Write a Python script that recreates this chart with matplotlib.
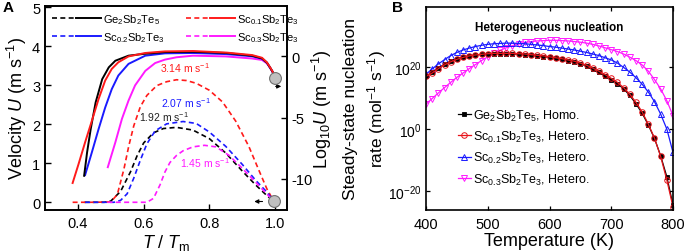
import numpy as np
import matplotlib
matplotlib.use("Agg")
import matplotlib.pyplot as plt
from matplotlib.legend_handler import HandlerTuple
from matplotlib.lines import Line2D
from matplotlib.ticker import FixedLocator, NullLocator, LogFormatterMathtext

plt.rcParams['font.family'] = ['Liberation Sans', 'DejaVu Sans']
plt.rcParams['mathtext.fontset'] = 'custom'
plt.rcParams['mathtext.rm'] = 'Liberation Sans'
plt.rcParams['mathtext.it'] = 'Liberation Sans:italic'
plt.rcParams['mathtext.bf'] = 'Liberation Sans:bold'

# ---------------- Panel A data ----------------
names = [r'Ge$_2$Sb$_2$Te$_5$', r'Sc$_{0.1}$Sb$_2$Te$_3$',
         r'Sc$_{0.2}$Sb$_2$Te$_3$', r'Sc$_{0.3}$Sb$_2$Te$_3$']
colors = ['black', '#ff1a1a', '#1a1aff', '#ff1aff']

# velocity U (m/s), dashed, left axis
ge_T_lin = [0.42, 0.48, 0.50, 0.53, 0.56, 0.58, 0.60, 0.63, 0.66, 0.70, 0.75, 0.80, 0.85, 0.90, 0.94, 0.975, 0.995]
ge_U_lin = [0.0, 0.0, 0.03, 0.28, 0.78, 1.19, 1.52, 1.78, 1.89, 1.92, 1.85, 1.63, 1.26, 0.80, 0.45, 0.17, 0.03]
sc1_T_lin = [0.384, 0.45, 0.50, 0.52, 0.54, 0.555, 0.57, 0.59, 0.61, 0.64, 0.67, 0.70, 0.73, 0.76, 0.80, 0.84, 0.88, 0.92, 0.95, 0.975, 0.995]
sc1_U_lin = [0.0, 0.0, 0.01, 0.2, 0.85, 1.45, 1.96, 2.45, 2.74, 2.99, 3.09, 3.14, 3.12, 3.05, 2.87, 2.57, 2.08, 1.43, 0.83, 0.34, 0.04]
sc2_T_lin = [0.422, 0.51, 0.53, 0.55, 0.57, 0.59, 0.61, 0.635, 0.67, 0.72, 0.76, 0.80, 0.85, 0.90, 0.94, 0.975, 0.995]
sc2_U_lin = [0.0, 0.0, 0.05, 0.22, 0.62, 1.08, 1.5, 1.83, 2.01, 2.07, 2.02, 1.80, 1.43, 0.97, 0.57, 0.26, 0.04]
sc3_T_lin = [0.49, 0.61, 0.63, 0.65, 0.665, 0.68, 0.70, 0.72, 0.75, 0.785, 0.82, 0.86, 0.90, 0.94, 0.975, 0.995]
sc3_U_lin = [0.0, 0.0, 0.1, 0.45, 0.78, 1.02, 1.2, 1.32, 1.42, 1.46, 1.42, 1.2, 0.87, 0.52, 0.21, 0.03]

# log10 U, solid, right axis
ge_T_log = [0.419, 0.428, 0.439, 0.454, 0.474, 0.494, 0.514, 0.554, 0.605, 0.665, 0.75, 0.85, 0.93, 0.96, 0.975, 0.985, 0.992, 0.996]
ge_U_log = [-9.74, -7.83, -5.93, -3.76, -1.86, -0.90, -0.36, 0.05, 0.21, 0.34, 0.37, 0.27, 0.05, -0.17, -0.52, -0.94, -1.25, -1.54]
sc1_T_log = [0.384, 0.402, 0.422, 0.4425, 0.463, 0.483, 0.503, 0.523, 0.554, 0.605, 0.665, 0.75, 0.853, 0.93, 0.96, 0.975, 0.985, 0.992, 0.996]
sc1_U_log = [-10.33, -8.79, -7.01, -5.26, -3.48, -1.98, -1.03, -0.49, -0.01, 0.27, 0.40, 0.43, 0.30, 0.10, -0.12, -0.50, -0.92, -1.23, -1.52]
sc2_T_log = [0.422, 0.4425, 0.463, 0.483, 0.503, 0.523, 0.554, 0.605, 0.665, 0.75, 0.85, 0.93, 0.96, 0.975, 0.985, 0.992, 0.996]
sc2_U_log = [-9.68, -7.83, -5.93, -4.18, -2.68, -1.57, -0.62, 0.05, 0.24, 0.27, 0.18, 0.00, -0.20, -0.54, -0.95, -1.26, -1.55]
sc3_T_log = [0.491, 0.514, 0.534, 0.554, 0.574, 0.605, 0.635, 0.665, 0.70, 0.75, 0.85, 0.93, 0.96, 0.975, 0.985, 0.992, 0.996]
sc3_U_log = [-9.04, -7.01, -5.10, -3.61, -2.37, -1.19, -0.55, -0.27, -0.08, 0.05, -0.01, -0.18, -0.30, -0.58, -0.97, -1.28, -1.56]

peak_labels = [r'1.92 m s$^{-1}$', r'3.14 m s$^{-1}$', r'2.07 m s$^{-1}$', r'1.45 m s$^{-1}$']

# ---------------- Panel B data ----------------
temps = list(range(400, 801, 10))
ge_rate = [17.0, 18.2, 19.6, 20.8, 21.8, 22.6, 23.1, 23.5, 23.8, 24.0, 24.1, 24.2, 24.2, 24.2,
           24.1, 24.0, 23.9, 23.7, 23.5, 23.3, 23.0, 22.7, 22.4, 22.0, 21.6, 21.0, 20.2, 19.2,
           18.2, 17.1, 15.9, 14.6, 12.9, 10.8, 8.1, 5.1, 1.3, -3.0, -8.6, -15.3, -24.4]
sc1_rate = [16.9, 18.0, 19.4, 20.6, 21.6, 22.4, 23.0, 23.5, 23.8, 24.0, 24.2, 24.3, 24.3, 24.3,
            24.3, 24.2, 24.1, 23.9, 23.7, 23.5, 23.2, 22.9, 22.6, 22.2, 21.8, 21.2, 20.5, 19.6,
            18.6, 17.5, 16.3, 15.0, 13.3, 11.2, 8.6, 5.5, 1.6, -2.9, -8.8, -16.4, -25.0]
sc2_rate = [17.6, 19.3, 20.9, 22.3, 23.6, 24.6, 25.4, 26.0, 26.5, 26.9, 27.2, 27.4, 27.5, 27.6,
            27.6, 27.5, 27.4, 27.2, 27.0, 26.8, 26.5, 26.3, 26.0, 25.7, 25.4, 25.0, 24.6, 24.1,
            23.6, 22.9, 22.2, 21.2, 19.8, 18.3, 16.5, 14.4, 11.9, 8.8, 4.8, 0.0, -7.5]
sc3_rate = [8.0, 9.8, 11.6, 13.3, 15.0, 16.6, 18.0, 19.4, 20.7, 22.0, 23.2, 24.3, 25.3, 26.1,
            26.8, 27.3, 27.8, 28.1, 28.3, 28.4, 28.5, 28.5, 28.4, 28.3, 28.1, 27.9, 27.6, 27.2,
            26.7, 26.1, 25.5, 24.9, 24.1, 23.1, 22.0, 20.6, 18.6, 15.9, 12.9, 9.1, 4.3]
b_labels = [r'Ge$_2$Sb$_2$Te$_5$, Homo.', r'Sc$_{0.1}$Sb$_2$Te$_3$, Hetero.',
            r'Sc$_{0.2}$Sb$_2$Te$_3$, Hetero.', r'Sc$_{0.3}$Sb$_2$Te$_3$, Hetero.']

W, H = 685, 253
fig = plt.figure(figsize=(W / 100, H / 100), dpi=100)

def box(l, r, t, b):
    return [l / W, (H - b) / H, (r - l) / W, (b - t) / H]

# ---------------- Panel A ----------------
ax = fig.add_axes(box(45, 287, 7, 210.5))
ax2 = ax.twinx()
ax.set_zorder(ax2.get_zorder() + 1)
ax.patch.set_visible(False)

lin_T = [ge_T_lin, sc1_T_lin, sc2_T_lin, sc3_T_lin]
lin_U = [ge_U_lin, sc1_U_lin, sc2_U_lin, sc3_U_lin]
log_T = [ge_T_log, sc1_T_log, sc2_T_log, sc3_T_log]
log_U = [ge_U_log, sc1_U_log, sc2_U_log, sc3_U_log]

dash = (0, (3.0, 2.0))
dashed_h, solid_h = [], []
for i in range(4):
    d, = ax.plot(lin_T[i], lin_U[i], color=colors[i], ls=dash, lw=1.2)
    dashed_h.append(d)
for i in [3, 2, 0, 1]:
    s, = ax2.plot(log_T[i], log_U[i], color=colors[i], lw=1.4)
for i in range(4):
    solid_h.append(Line2D([], [], color=colors[i], lw=1.4))

ax.set_xlim(0.30, 1.036)
ax.set_ylim(-0.185, 5.03)
ax2.set_ylim(-12.49, 4.10)
ax.set_xticks([0.4, 0.6, 0.8, 1.0])
ax.set_xticklabels(['0.4', '0.6', '0.8', '1.0'])
ax.set_yticks([0, 1, 2, 3, 4, 5])
ax2.set_yticks([0, -5, -10])
ax2.set_yticklabels(['0', '-5', '-10'])
for a in (ax, ax2):
    a.tick_params(direction='in', length=4, width=1.0, labelsize=10.5)
    for sp in a.spines.values():
        sp.set_linewidth(1.2)
ax.tick_params(axis='x', pad=5)

ax.set_xlabel(r'$T$ / $T_{\rm m}$', fontsize=13, labelpad=1)
ax.set_ylabel(r'Velocity $U$ (m s$^{-1}$)', fontsize=13, labelpad=2)
ax2.set_ylabel(r'Log$_{10}$$U$ (m s$^{-1}$)', fontsize=13)
ax2.yaxis.set_label_coords(1.095, 0.5)

# circles and arrows
ax.plot([1.0], [3.19], marker='o', ms=8.5, mfc='#c0c0c0', mec='#707070', mew=0.8, zorder=5, clip_on=False)
ax.plot([0.995], [0.04], marker='o', ms=8.5, mfc='#c0c0c0', mec='#707070', mew=0.8, zorder=5, clip_on=False)
ax.annotate('', xy=(1.027, 2.97), xytext=(0.993, 2.97),
            arrowprops=dict(arrowstyle='-|>', color='black', lw=0.8, mutation_scale=6), annotation_clip=False)
ax.annotate('', xy=(0.928, 0.02), xytext=(0.970, 0.02),
            arrowprops=dict(arrowstyle='-|>', color='black', lw=0.8, mutation_scale=6))

# peak labels
peak_pos = [(0.662, 2.22), (0.726, 3.47), (0.729, 2.56), (0.787, 1.03)]
for i in range(4):
    ax.text(peak_pos[i][0], peak_pos[i][1], peak_labels[i], color=colors[i] if i else '#222222',
            fontsize=7.5, ha='center', va='center')

handles = [(dashed_h[i], solid_h[i]) for i in range(4)]
order = [0, 2, 1, 3]
ax.legend([handles[i] for i in order], [names[i] for i in order], ncol=2,
          handler_map={tuple: HandlerTuple(ndivide=None, pad=0)},
          loc='upper left', bbox_to_anchor=(0.015, 0.985), frameon=False, fontsize=8,
          handlelength=4.4, handletextpad=0.2, columnspacing=1.9, labelspacing=0.35,
          borderaxespad=0, borderpad=0.3)

fig.text(3 / W, 1 - 8 / H, 'A', fontsize=11, fontweight='bold', va='center', ha='left')

# ---------------- Panel B ----------------
bx = fig.add_axes(box(426, 673, 8, 211))
tt = np.array(temps)
bx.plot(tt, 10.0 ** np.array(sc3_rate), color='#ff1aff', lw=0.9, marker='v', ms=4.2, mfc='none', mew=0.7, label=b_labels[3])
bx.plot(tt, 10.0 ** np.array(sc2_rate), color='#1a1aff', lw=0.9, marker='^', ms=4.2, mfc='none', mew=0.7, label=b_labels[2])
bx.plot(tt, 10.0 ** np.array(ge_rate), color='black', lw=0.9, marker='s', ms=3.2, mfc='black', mew=0.6, label=b_labels[0])
bx.plot(tt, 10.0 ** np.array(sc1_rate), color='#e8141a', lw=0.9, marker='o', ms=4.0, mfc='none', mew=0.7, label=b_labels[1])
bx.set_yscale('log')
bx.set_xlim(400, 800)
bx.set_ylim(1e-26, 10 ** 39.2)
bx.set_xticks([400, 500, 600, 700, 800])
bx.yaxis.set_major_locator(FixedLocator([1e-20, 1e0, 1e20]))
bx.yaxis.set_minor_locator(NullLocator())
bx.yaxis.set_major_formatter(LogFormatterMathtext())
bx.tick_params(direction='in', length=3, width=0.9, labelsize=10.5, top=True, right=True)
bx.tick_params(axis='y', labelsize=10, pad=3)
bx.tick_params(axis='x', pad=5)
for sp in bx.spines.values():
    sp.set_linewidth(1.2)
bx.set_xlabel('Temperature (K)', fontsize=13, labelpad=1)
bx.set_ylabel('Steady-state nucleation\n' + r'rate (mol$^{-1}$ s$^{-1}$)', fontsize=12.5, linespacing=1.4)
bx.yaxis.set_label_coords(-0.155, 0.5)
bx.text(0.5, 0.90, 'Heterogeneous nucleation', transform=bx.transAxes, ha='center', va='center',
        fontsize=8.5, fontweight='bold')
hs, ls = bx.get_legend_handles_labels()
idx = [ls.index(l) for l in b_labels]
bx.legend([hs[i] for i in idx], [ls[i] for i in idx], loc='upper left', bbox_to_anchor=(0.13, 0.505),
          frameon=False, fontsize=9, handlelength=1.0, handletextpad=0.2, labelspacing=0.5,
          borderaxespad=0, borderpad=0)

fig.text(392 / W, 1 - 8 / H, 'B', fontsize=11, fontweight='bold', va='center', ha='left')

fig.savefig('out.png', dpi=100)
